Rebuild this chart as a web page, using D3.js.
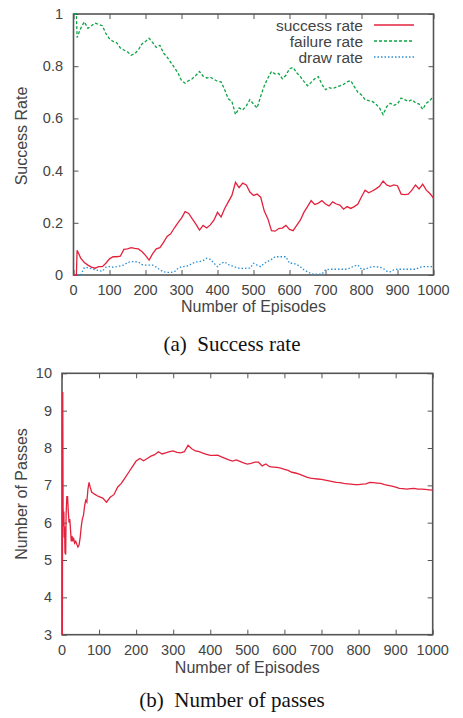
<!DOCTYPE html>
<html>
<head>
<meta charset="utf-8">
<script src="https://cdn.jsdelivr.net/npm/d3@7"></script>
<style>
  body { margin: 0; background: #fff; }
  svg text { font-family: "Liberation Sans", Arial, sans-serif; fill: #444; }
  svg text.caption { font-family: "Liberation Serif", "Times New Roman", serif; fill: #111; }
</style>
</head>
<body>
<div id="chart"></div>
<script>

  // (a) success / failure / draw rate, sampled every 10 episodes (plus ep 8)
  var episodes = [0, 8].concat(d3.range(10, 1001, 10));

  var successRate = [
    0, 0, 0.095, 0.065, 0.048, 0.038, 0.030, 0.026, 0.032, 0.032, 0.045,
    0.062, 0.070, 0.070, 0.072, 0.098, 0.100, 0.105, 0.102, 0.100, 0.090,
    0.075, 0.057, 0.082, 0.100, 0.105, 0.125, 0.148, 0.158, 0.180, 0.200,
    0.218, 0.243, 0.236, 0.215, 0.195, 0.172, 0.190, 0.180, 0.192, 0.210,
    0.240, 0.222, 0.255, 0.280, 0.305, 0.355, 0.335, 0.352, 0.345, 0.318,
    0.305, 0.310, 0.298, 0.245, 0.215, 0.170, 0.168, 0.178, 0.180, 0.190,
    0.175, 0.170, 0.190, 0.210, 0.240, 0.262, 0.285, 0.270, 0.275, 0.285,
    0.272, 0.265, 0.280, 0.272, 0.268, 0.252, 0.262, 0.255, 0.262, 0.272,
    0.300, 0.325, 0.315, 0.322, 0.330, 0.340, 0.360, 0.345, 0.340, 0.345,
    0.342, 0.310, 0.308, 0.310, 0.325, 0.345, 0.330, 0.348, 0.325, 0.312,
    0.295
  ];

  var failureRate = [
    1.00, 1.00, 0.910, 0.945, 0.970, 0.945, 0.955, 0.965, 0.960, 0.955, 0.925,
    0.905, 0.895, 0.890, 0.870, 0.862, 0.855, 0.842, 0.848, 0.862, 0.885,
    0.895, 0.907, 0.890, 0.872, 0.880, 0.850, 0.835, 0.815, 0.795, 0.775,
    0.745, 0.735, 0.745, 0.752, 0.765, 0.780, 0.762, 0.755, 0.758, 0.750,
    0.742, 0.740, 0.710, 0.675, 0.665, 0.615, 0.640, 0.632, 0.648, 0.672,
    0.655, 0.640, 0.685, 0.725, 0.755, 0.780, 0.770, 0.772, 0.752, 0.765,
    0.790, 0.795, 0.775, 0.760, 0.742, 0.725, 0.738, 0.752, 0.760, 0.730,
    0.710, 0.718, 0.714, 0.720, 0.725, 0.730, 0.740, 0.745, 0.722, 0.700,
    0.690, 0.672, 0.668, 0.665, 0.655, 0.640, 0.615, 0.645, 0.658, 0.650,
    0.655, 0.678, 0.672, 0.665, 0.672, 0.660, 0.655, 0.635, 0.658, 0.668,
    0.686
  ];

  var drawRate = [
    0, 0, 0, 0, 0.028, 0.028, 0.024, 0.020, 0.017, 0.014, 0.030,
    0.032, 0.030, 0.032, 0.035, 0.038, 0.048, 0.051, 0.051, 0.050, 0.040,
    0.038, 0.038, 0.038, 0.030, 0.020, 0.012, 0.010, 0.010, 0.012, 0.025,
    0.032, 0.033, 0.036, 0.045, 0.050, 0.051, 0.055, 0.064, 0.060, 0.045,
    0.032, 0.045, 0.050, 0.040, 0.035, 0.030, 0.026, 0.025, 0.026, 0.026,
    0.045, 0.038, 0.032, 0.045, 0.052, 0.060, 0.070, 0.070, 0.070, 0.070,
    0.045, 0.045, 0.040, 0.032, 0.020, 0.012, 0.005, 0.003, 0.003, 0.003,
    0.020, 0.022, 0.022, 0.022, 0.022, 0.022, 0.022, 0.028, 0.035, 0.038,
    0.022, 0.022, 0.028, 0.032, 0.032, 0.030, 0.025, 0.015, 0.012, 0.020,
    0.022, 0.022, 0.022, 0.022, 0.022, 0.022, 0.028, 0.032, 0.032, 0.032,
    0.032
  ];

  // (b) number of passes
  var passEpisodes = [
    1, 2, 3, 4, 5, 6, 7, 8, 10, 11, 13, 15, 17, 19, 21, 23, 25, 27, 29, 31,
    34, 37, 40, 43, 46, 49, 52, 55, 58, 61, 64, 67, 70, 73, 76, 80, 85, 90, 95
  ].concat(d3.range(100, 1001, 10));

  var passes = [
    3.0, 9.5, 6.4, 5.9, 6.3, 5.6, 5.9, 5.2, 5.15, 6.2, 6.7, 6.7, 6.3, 6.0, 6.1,
    5.8, 5.5, 5.65, 5.5, 5.6, 5.45, 5.5, 5.42, 5.35, 5.4, 5.6, 5.9, 6.1, 6.2,
    6.45, 6.6, 6.55, 6.9, 7.08, 6.95, 6.82, 6.78, 6.75, 6.72,
    6.70, 6.66, 6.55, 6.68, 6.75, 6.95, 7.05, 7.20, 7.35, 7.50,
    7.65, 7.72, 7.66, 7.72, 7.78, 7.82, 7.90, 7.84, 7.87, 7.90,
    7.92, 7.88, 7.87, 7.90, 8.07, 7.98, 7.92, 7.90, 7.86, 7.83,
    7.80, 7.80, 7.81, 7.76, 7.72, 7.68, 7.65, 7.68, 7.64, 7.60,
    7.57, 7.59, 7.62, 7.62, 7.52, 7.57, 7.50, 7.49, 7.48, 7.46,
    7.43, 7.40, 7.35, 7.33, 7.30, 7.26, 7.22, 7.19, 7.18, 7.17,
    7.16, 7.14, 7.12, 7.10, 7.08, 7.07, 7.05, 7.04, 7.03, 7.02,
    7.02, 7.03, 7.04, 7.08, 7.07, 7.06, 7.05, 7.02, 7.00, 6.98,
    6.95, 6.92, 6.91, 6.90, 6.91, 6.92, 6.90, 6.90, 6.89, 6.88,
    6.87
  ];

  var xTicks = d3.range(0, 1001, 100);
  var rateTicks = [0, 0.2, 0.4, 0.6, 0.8, 1];
  var passTicks = [3, 4, 5, 6, 7, 8, 9, 10];

  var legendLabels = ['success rate', 'failure rate', 'draw rate'];
  var colors = ['#e3223d', '#0da444', '#2a8fd6'];
  var dashes = ['none', '3,2', '1.5,2'];


  var svg = d3.select('#chart')
    .append('svg')
    .attr('width', 463)
    .attr('height', 718);

  var boxA = { left: 73.5, right: 433.5, top: 14, bottom: 275 };
  var boxB = { left: 62, right: 432.7, top: 373.3, bottom: 634.7 };

  var x1 = d3.scaleLinear().domain([0, 1000]).range([boxA.left, boxA.right]);
  var y1 = d3.scaleLinear().domain([0, 1]).range([boxA.bottom, boxA.top]);
  var x2 = d3.scaleLinear().domain([0, 1000]).range([boxB.left, boxB.right]);
  var y2 = d3.scaleLinear().domain([3, 10]).range([boxB.bottom, boxB.top]);


  function drawFrame( box, x, y, yTicks, labelX ) {
    var g = svg.append('g');

    // inward ticks on all four sides
    g.append('g')
      .attr('transform', 'translate(0,' + box.bottom + ')')
      .call( d3.axisTop( x ).tickValues( xTicks ).tickSize( 5 ).tickFormat('') );
    g.append('g')
      .attr('transform', 'translate(0,' + box.top + ')')
      .call( d3.axisBottom( x ).tickValues( xTicks ).tickSize( 5 ).tickFormat('') );
    g.append('g')
      .attr('transform', 'translate(' + box.left + ',0)')
      .call( d3.axisRight( y ).tickValues( yTicks ).tickSize( 5 ).tickFormat('') );
    g.append('g')
      .attr('transform', 'translate(' + box.right + ',0)')
      .call( d3.axisLeft( y ).tickValues( yTicks ).tickSize( 5 ).tickFormat('') );

    g.selectAll('.domain').remove();
    g.selectAll('.tick line').attr('stroke', '#555').attr('stroke-width', 1);

    g.append('rect')
      .attr('x', box.left)
      .attr('y', box.top)
      .attr('width', box.right - box.left)
      .attr('height', box.bottom - box.top)
      .attr('fill', 'none')
      .attr('stroke', '#555')
      .attr('stroke-width', 1.6);

    g.selectAll('.xl')
      .data( xTicks )
      .enter()
      .append('text')
      .attr('x', function ( d ) { return x( d ); })
      .attr('y', box.bottom + 20)
      .attr('text-anchor', 'middle')
      .style('font-size', '14.5px')
      .text( function ( d ) { return d; });

    g.selectAll('.yl')
      .data( yTicks )
      .enter()
      .append('text')
      .attr('x', labelX)
      .attr('y', function ( d ) { return y( d ) + 5; })
      .attr('text-anchor', 'end')
      .style('font-size', '14.5px')
      .text( function ( d ) { return d; });

    return g;
  }


  function drawLine( x, y, xs, ys, color, dash ) {
    var line = d3.line()
      .x( function ( d, i ) { return x( xs[i] ); })
      .y( function ( d ) { return y( d ); });

    svg.append('path')
      .datum( ys )
      .attr('d', line)
      .attr('fill', 'none')
      .style('stroke', color)
      .style('stroke-width', 1.3)
      .style('stroke-dasharray', dash);
  }


  // ---- chart (a)
  drawFrame( boxA, x1, y1, rateTicks, 63 );

  drawLine( x1, y1, episodes, drawRate, colors[2], dashes[2] );
  drawLine( x1, y1, episodes, failureRate, colors[1], dashes[1] );
  drawLine( x1, y1, episodes, successRate, colors[0], dashes[0] );

  svg.append('text')
    .attr('x', (boxA.left + boxA.right) / 2)
    .attr('y', 312)
    .attr('text-anchor', 'middle')
    .style('font-size', '16px')
    .text('Number of Episodes');

  svg.append('text')
    .attr('transform', 'translate(27,136) rotate(-90)')
    .attr('text-anchor', 'middle')
    .style('font-size', '16px')
    .text('Success Rate');

  var legend = svg.selectAll('.legend')
    .data( legendLabels )
    .enter()
    .append('g')
    .attr('class', 'legend')
    .attr('transform', function ( d, i ) { return 'translate(0,' + (25 + i * 16) + ')'; });

  legend.append('text')
    .attr('x', 363)
    .attr('y', 5.5)
    .attr('text-anchor', 'end')
    .style('font-size', '15.5px')
    .text( function ( d ) { return d; });

  legend.append('line')
    .attr('x1', 374)
    .attr('x2', 414)
    .attr('y1', 0)
    .attr('y2', 0)
    .style('stroke', function ( d, i ) { return colors[i]; })
    .style('stroke-width', 1.3)
    .style('stroke-dasharray', function ( d, i ) { return dashes[i]; });

  svg.append('text')
    .attr('class', 'caption')
    .attr('x', 232)
    .attr('y', 351)
    .attr('text-anchor', 'middle')
    .style('font-size', '21px')
    .text('(a)\u00a0 Success rate');


  // ---- chart (b)
  drawFrame( boxB, x2, y2, passTicks, 52 );

  drawLine( x2, y2, passEpisodes, passes, colors[0], 'none' );

  svg.append('text')
    .attr('x', (boxB.left + boxB.right) / 2)
    .attr('y', 673)
    .attr('text-anchor', 'middle')
    .style('font-size', '16px')
    .text('Number of Episodes');

  svg.append('text')
    .attr('transform', 'translate(27,494) rotate(-90)')
    .attr('text-anchor', 'middle')
    .style('font-size', '16px')
    .text('Number of Passes');

  svg.append('text')
    .attr('class', 'caption')
    .attr('x', 232)
    .attr('y', 707)
    .attr('text-anchor', 'middle')
    .style('font-size', '21px')
    .text('(b)\u00a0 Number of passes');

</script>
</body>
</html>
